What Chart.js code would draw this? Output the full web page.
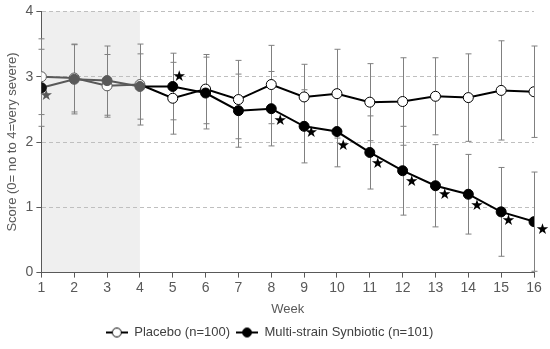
<!DOCTYPE html>
<html>
<head>
<meta charset="utf-8">
<script src="https://cdn.jsdelivr.net/npm/chart.js@4/dist/chart.umd.min.js"></script>
<style>
  html, body { margin: 0; padding: 0; background: #fff; }
  #wrap { width: 550px; height: 349px; }
</style>
</head>
<body>
<div id="wrap"><canvas id="scoreChart" width="550" height="349"></canvas></div>
<script>
// Weekly mean score (+/- SD) per group
const weeks = [1, 2, 3, 4, 5, 6, 7, 8, 9, 10, 11, 12, 13, 14, 15, 16];
const placeboMean = [3.00, 2.98, 2.86, 2.88, 2.67, 2.81, 2.65, 2.88, 2.69, 2.74, 2.61, 2.62, 2.70, 2.68, 2.79, 2.77];
const placeboSD = [0.58, 0.52, 0.48, 0.62, 0.55, 0.53, 0.60, 0.60, 0.50, 0.68, 0.59, 0.67, 0.59, 0.67, 0.76, 0.70];
const synMean = [2.83, 2.96, 2.94, 2.85, 2.85, 2.75, 2.48, 2.51, 2.24, 2.16, 1.84, 1.56, 1.33, 1.20, 0.93, 0.78];
const synSD = [0.59, 0.53, 0.53, 0.50, 0.51, 0.55, 0.56, 0.57, 0.56, 0.54, 0.56, 0.68, 0.63, 0.61, 0.68, 0.76];

// significance stars (placed next to the synbiotic points)
const starX = [1.15, 5.2, 8.27, 9.22, 10.19, 11.24, 12.28, 13.28, 14.26, 15.22, 16.26];
const starY = [2.70, 3.00, 2.32, 2.13, 1.94, 1.66, 1.38, 1.19, 1.02, 0.79, 0.65];

const yTicks = [0, 1, 2, 3, 4];
const runInWeek = 4; // shaded run-in period ends here

const grey = '#595959';
const fontFamily = '"Liberation Sans", Arial, sans-serif';

function legendImage(fill) {
    const c = document.createElement('canvas');
    c.width = 22; c.height = 12;
    const g = c.getContext('2d');
    g.strokeStyle = '#000';
    g.lineWidth = 2;
    g.beginPath(); g.moveTo(0, 6); g.lineTo(22, 6); g.stroke();
    g.lineWidth = 1;
    g.fillStyle = fill;
    g.beginPath(); g.arc(11, 6, 4.5, 0, Math.PI * 2); g.fill(); g.stroke();
    return c;
}

const toXY = (xs, ys) => xs.map((x, i) => ({ x: x, y: ys[i] }));
const early = (x) => x <= runInWeek;

// shaded run-in region
const shadePlugin = {
    id: 'shade',
    beforeDraw(chart) {
        const { ctx, chartArea, scales } = chart;
        const x0 = scales.x.getPixelForValue(weeks[0]);
        const x1 = scales.x.getPixelForValue(runInWeek);
        ctx.save();
        ctx.fillStyle = '#efefef';
        ctx.fillRect(x0, chartArea.top, x1 - x0, chartArea.bottom - chartArea.top);
        ctx.restore();
    }
};

// SD error bars
const errorBarPlugin = {
    id: 'errorBars',
    beforeDatasetsDraw(chart) {
        const { ctx, scales } = chart;
        ctx.save();
        ctx.strokeStyle = '#808080';
        ctx.lineWidth = 1;
        chart.data.datasets.forEach((ds) => {
            if (!ds.sd) return;
            ds.data.forEach((p, i) => {
                const x = Math.round(scales.x.getPixelForValue(p.x)) + 0.5;
                const yt = scales.y.getPixelForValue(p.y + ds.sd[i]);
                const yb = scales.y.getPixelForValue(p.y - ds.sd[i]);
                ctx.beginPath();
                ctx.moveTo(x, yt); ctx.lineTo(x, yb);
                ctx.moveTo(x - 3, yt); ctx.lineTo(x + 3, yt);
                ctx.moveTo(x - 3, yb); ctx.lineTo(x + 3, yb);
                ctx.stroke();
            });
        });
        ctx.restore();
    }
};

// stars drawn as text so the last one is not clipped by the chart area
const starPlugin = {
    id: 'stars',
    afterDatasetsDraw(chart) {
        const { ctx, scales } = chart;
        ctx.save();
        ctx.font = '15px "DejaVu Sans"';
        ctx.textAlign = 'center';
        ctx.textBaseline = 'middle';
        starX.forEach((x, i) => {
            ctx.fillStyle = i === 0 ? grey : '#000';
            ctx.fillText('\u2605', scales.x.getPixelForValue(x), scales.y.getPixelForValue(starY[i]));
        });
        ctx.restore();
    }
};

const ctx = document.getElementById('scoreChart').getContext('2d');
const chart = new Chart(ctx, {
    type: 'line',
    data: {
        datasets: [
            {
                label: 'Placebo (n=100)',
                data: toXY(weeks, placeboMean),
                sd: placeboSD,
                legendFill: '#fff',
                order: 1,
                borderWidth: 2,
                borderColor: '#000',
                segment: { borderColor: (c) => early(c.p1.parsed.x) ? grey : '#000' },
                pointRadius: 5,
                pointBorderWidth: 1,
                pointBackgroundColor: '#fff',
                pointBorderColor: weeks.map(w => early(w) ? grey : '#000')
            },
            {
                label: 'Multi-strain Synbiotic (n=101)',
                data: toXY(weeks, synMean),
                sd: synSD,
                legendFill: '#000',
                order: 0,
                borderWidth: 2,
                borderColor: '#000',
                segment: { borderColor: (c) => early(c.p1.parsed.x) ? grey : '#000' },
                pointRadius: 5,
                pointBorderWidth: 1,
                pointBackgroundColor: weeks.map((w, i) => i === 0 ? '#111' : (early(w) ? grey : '#000')),
                pointBorderColor: weeks.map((w, i) => i === 0 ? '#111' : (early(w) ? grey : '#000'))
            }
        ]
    },
    options: {
        responsive: false,
        animation: false,
        layout: { padding: { left: 5, right: 16, top: 2, bottom: 0 } },
        plugins: {
            tooltip: { enabled: false },
            legend: {
                position: 'bottom',
                labels: {
                    usePointStyle: true,
                    pointStyleWidth: 22,
                    padding: 6,
                    color: '#404040',
                    font: { family: fontFamily, size: 13 },
                    generateLabels(ch) {
                        return ch.data.datasets.map((ds, i) => ({
                            text: ds.label,
                            pointStyle: legendImage(ds.legendFill),
                            fillStyle: ds.legendFill,
                            strokeStyle: '#000',
                            lineWidth: 0,
                            hidden: false,
                            fontColor: '#404040',
                            datasetIndex: i
                        }));
                    }
                }
            }
        },
        scales: {
            x: {
                type: 'linear',
                min: 1,
                max: 16,
                ticks: {
                    stepSize: 1,
                    color: grey,
                    padding: 2,
                    font: { family: fontFamily, size: 14 }
                },
                grid: { drawOnChartArea: false, drawTicks: true, tickLength: 5, color: grey },
                border: { color: grey, width: 1 },
                title: {
                    display: true,
                    text: 'Week',
                    color: grey,
                    padding: { top: 3, bottom: 3 },
                    font: { family: fontFamily, size: 13 }
                }
            },
            y: {
                min: 0,
                max: 4,
                afterBuildTicks(scale) { scale.ticks = yTicks.map(v => ({ value: v })); },
                ticks: {
                    color: grey,
                    padding: 3,
                    font: { family: fontFamily, size: 14 }
                },
                grid: { color: '#bfbfbf', tickColor: grey, tickLength: 5, tickBorderDash: [] },
                border: { color: grey, width: 1, dash: [4, 3] },
                title: {
                    display: true,
                    text: 'Score (0= no to 4=very severe)',
                    color: grey,
                    padding: { top: 0, bottom: 2 },
                    font: { family: fontFamily, size: 13 }
                }
            }
        }
    },
    plugins: [shadePlugin, errorBarPlugin, starPlugin]
});
</script>
</body>
</html>
